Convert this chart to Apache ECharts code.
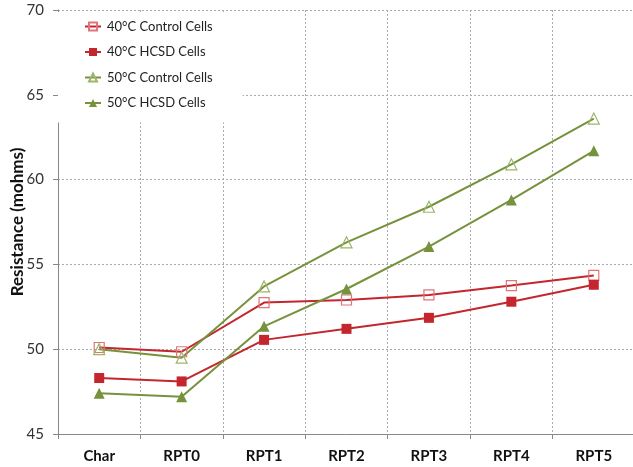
<!DOCTYPE html>
<html><head><meta charset="utf-8">
<script src="https://cdn.jsdelivr.net/npm/echarts@6/dist/echarts.min.js"></script>
<style>html,body{margin:0;padding:0;background:#fff}#c{width:633px;height:467px}</style>
</head><body><div id="c"></div>
<script>
const categories = ['Char','RPT0','RPT1','RPT2','RPT3','RPT4','RPT5'];
const control40 = [50.1, 49.85, 52.75, 52.9, 53.2, 53.75, 54.35];
const hcsd40 = [48.3, 48.1, 50.55, 51.2, 51.85, 52.8, 53.8];
const control50 = [50.0, 49.5, 53.7, 56.3, 58.4, 60.9, 63.6];
const hcsd50 = [47.4, 47.2, 51.35, 53.55, 56.05, 58.8, 61.7];
const yTicks = [45, 50, 55, 60, 65, 70];

const RED = '#C3262C', GREEN = '#76923C';
const font = 'Lato, "Open Sans", sans-serif';
const chart = echarts.init(document.getElementById('c'), null, {renderer:'canvas'});
function s(name, data, color, sym, hollow, size, borderCol){
  return {
    name, type:'line', data, symbol:sym, symbolSize:size, showSymbol:true,
    lineStyle:{color, width:2},
    itemStyle: hollow ? {color:'rgba(255,255,255,0)', borderColor:borderCol, borderWidth:1.2} : {color, borderColor:color, borderWidth:0},
    emphasis:{disabled:true}, animation:false
  };
}
chart.setOption({
  backgroundColor:'#fff',
  animation:false,
  grid:{left:58, top:10, width:577, height:424, containLabel:false, outerBoundsMode:'none'},
  legend:{
    orient:'vertical', left:58, top:12, padding:[8,30,13,26], itemGap:12.5,
    backgroundColor:'#fff', itemWidth:16, itemHeight:10,
    textStyle:{fontFamily:font, fontSize:13, color:'#222', padding:[0,0,0,1]},
    data:['40°C Control Cells','40°C HCSD Cells','50°C Control Cells','50°C HCSD Cells']
  },
  xAxis:{
    type:'category', data:categories, boundaryGap:true,
    axisLine:{lineStyle:{color:'#888', width:1}},
    axisTick:{show:true, length:5, lineStyle:{color:'#888'}},
    axisLabel:{fontFamily:font, fontSize:15, fontWeight:'bold', color:'#111', margin:15},
    splitLine:{show:true, lineStyle:{color:'#aaa', type:[2,2], width:1}}
  },
  yAxis:{
    type:'value', min:yTicks[0], max:yTicks[yTicks.length-1], interval:5,
    name:'Resistance (mohms)', nameLocation:'middle', nameGap:32, nameMoveOverlap:false,
    nameTextStyle:{fontFamily:font, fontSize:17, fontWeight:'bold', color:'#111'},
    axisLine:{show:true, lineStyle:{color:'#888', width:1}},
    axisTick:{show:true, length:5, lineStyle:{color:'#888'}},
    axisLabel:{fontFamily:font, fontSize:15, color:'#333', margin:14},
    splitLine:{show:true, lineStyle:{color:'#aaa', type:[2,2], width:1}}
  },
  series:[
    s('40°C Control Cells', control40, RED, 'rect', true, 10, '#E07478'),
    s('40°C HCSD Cells', hcsd40, RED, 'rect', false, 10),
    s('50°C Control Cells', control50, GREEN, 'triangle', true, 11, '#9BB56A'),
    s('50°C HCSD Cells', hcsd50, GREEN, 'triangle', false, 11)
  ]
});
</script></body></html>
